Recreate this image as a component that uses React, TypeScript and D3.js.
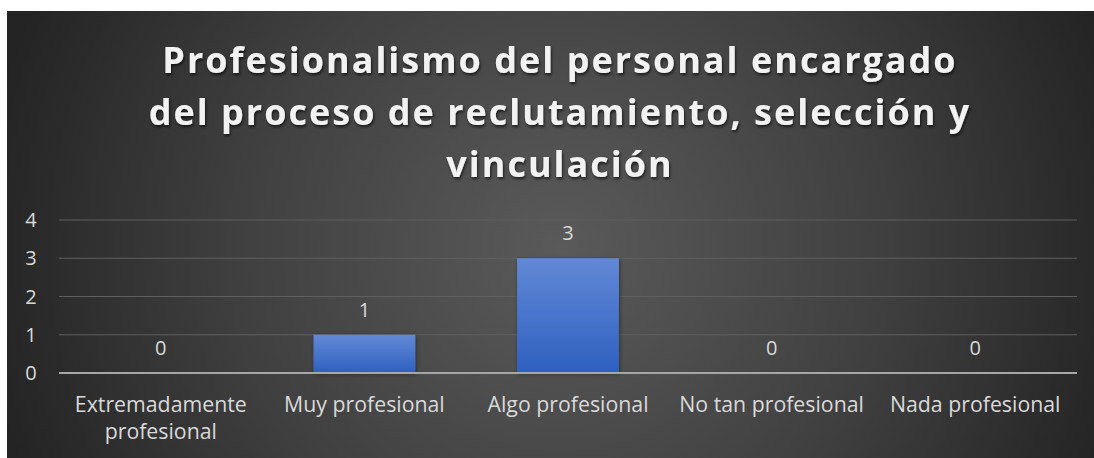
import React from "react";
import * as d3 from "d3";

const categories: string[][] = [
  ["Extremadamente", "profesional"],
  ["Muy profesional"],
  ["Algo profesional"],
  ["No tan profesional"],
  ["Nada profesional"],
];
const categoryKeys = ["Extremadamente profesional", "Muy profesional", "Algo profesional", "No tan profesional", "Nada profesional"];
const values: number[] = [0, 1, 3, 0, 0];
const yTicks: number[] = [0, 1, 2, 3, 4];
const titleLines: string[] = [
  "Profesionalismo del personal encargado",
  "del proceso de reclutamiento, selección y",
  "vinculación",
];

const W = 1094;
const H = 458;
const panel = { x: 7, y: 11, w: 1094 - 7, h: 458 - 11 };
const plot = { left: 59, right: 1077, top: 220, bottom: 373 };

export default function App() {
  const x = d3.scaleBand<string>().domain(categoryKeys).range([plot.left, plot.right]).paddingInner(0.5).paddingOuter(0.25);
  const y = d3.scaleLinear().domain([0, 4]).range([plot.bottom, plot.top]);
  const font = "'Open Sans', 'DejaVu Sans', sans-serif";
  return (
    <svg width={W} height={H} style={{ position: "absolute", left: 0, top: 0, display: "block" }}>
      <defs>
        <radialGradient id="bg" gradientUnits="userSpaceOnUse" cx={560} cy={250} r={580}>
          <stop offset="0" stopColor="#5a5a5a" />
          <stop offset="0.55" stopColor="#404040" />
          <stop offset="1" stopColor="#242424" />
        </radialGradient>
        <linearGradient id="bar" x1="0" y1="0" x2="0" y2="1">
          <stop offset="0" stopColor="#6289d6" />
          <stop offset="1" stopColor="#2e60c0" />
        </linearGradient>
        <filter id="tshadow" x="-10%" y="-30%" width="120%" height="160%">
          <feDropShadow dx="1" dy="2" stdDeviation="1.5" floodColor="#000" floodOpacity="0.65" />
        </filter>
        <filter id="bshadow" x="-20%" y="-20%" width="140%" height="140%">
          <feDropShadow dx="1" dy="1" stdDeviation="2" floodColor="#000" floodOpacity="0.4" />
        </filter>
      </defs>
      <rect x={0} y={0} width={W} height={H} fill="#ffffff" />
      <rect x={panel.x} y={panel.y} width={panel.w} height={panel.h} fill="url(#bg)" />
      {titleLines.map((t, i) => (
        <text
          key={i}
          x={560}
          y={73 + i * 52}
          textAnchor="middle"
          fontFamily={font}
          fontWeight={700}
          fontSize={36}
          letterSpacing={2}
          fill="#f2f2f2"
          filter="url(#tshadow)"
        >
          {t}
        </text>
      ))}
      {yTicks.filter((t) => t !== 0).map((t) => (
        <line key={t} x1={plot.left} x2={plot.right} y1={y(t)} y2={y(t)} stroke="#5f5f5f" strokeWidth={1.2} />
      ))}
      {categoryKeys.map((c, i) => {
        const v = values[i];
        const bx = x(c)!;
        return v > 0 ? (
          <rect key={c} x={bx} y={y(v)} width={x.bandwidth()} height={y(0) - y(v)} fill="url(#bar)" filter="url(#bshadow)" />
        ) : null;
      })}
      <line x1={plot.left} x2={plot.right} y1={y(0)} y2={y(0)} stroke="#a6a6a6" strokeWidth={2.2} />
      {yTicks.map((t) => (
        <text key={t} x={31} y={y(t) + 7} textAnchor="middle" fontFamily={font} fontSize={20} fill="#d9d9d9">
          {t}
        </text>
      ))}
      {categoryKeys.map((c, i) => (
        <text
          key={c}
          x={x(c)! + x.bandwidth() / 2}
          y={y(values[i]) - 18}
          textAnchor="middle"
          fontFamily={font}
          fontSize={20}
          fill="#d9d9d9"
        >
          {values[i]}
        </text>
      ))}
      {categoryKeys.map((c, i) => (
        <text key={c} textAnchor="middle" fontFamily={font} fontSize={21.3} fill="#d9d9d9">
          {categories[i].map((ln, j) => (
            <tspan key={j} x={x(c)! + x.bandwidth() / 2} y={412 + j * 27}>
              {ln}
            </tspan>
          ))}
        </text>
      ))}
    </svg>
  );
}
